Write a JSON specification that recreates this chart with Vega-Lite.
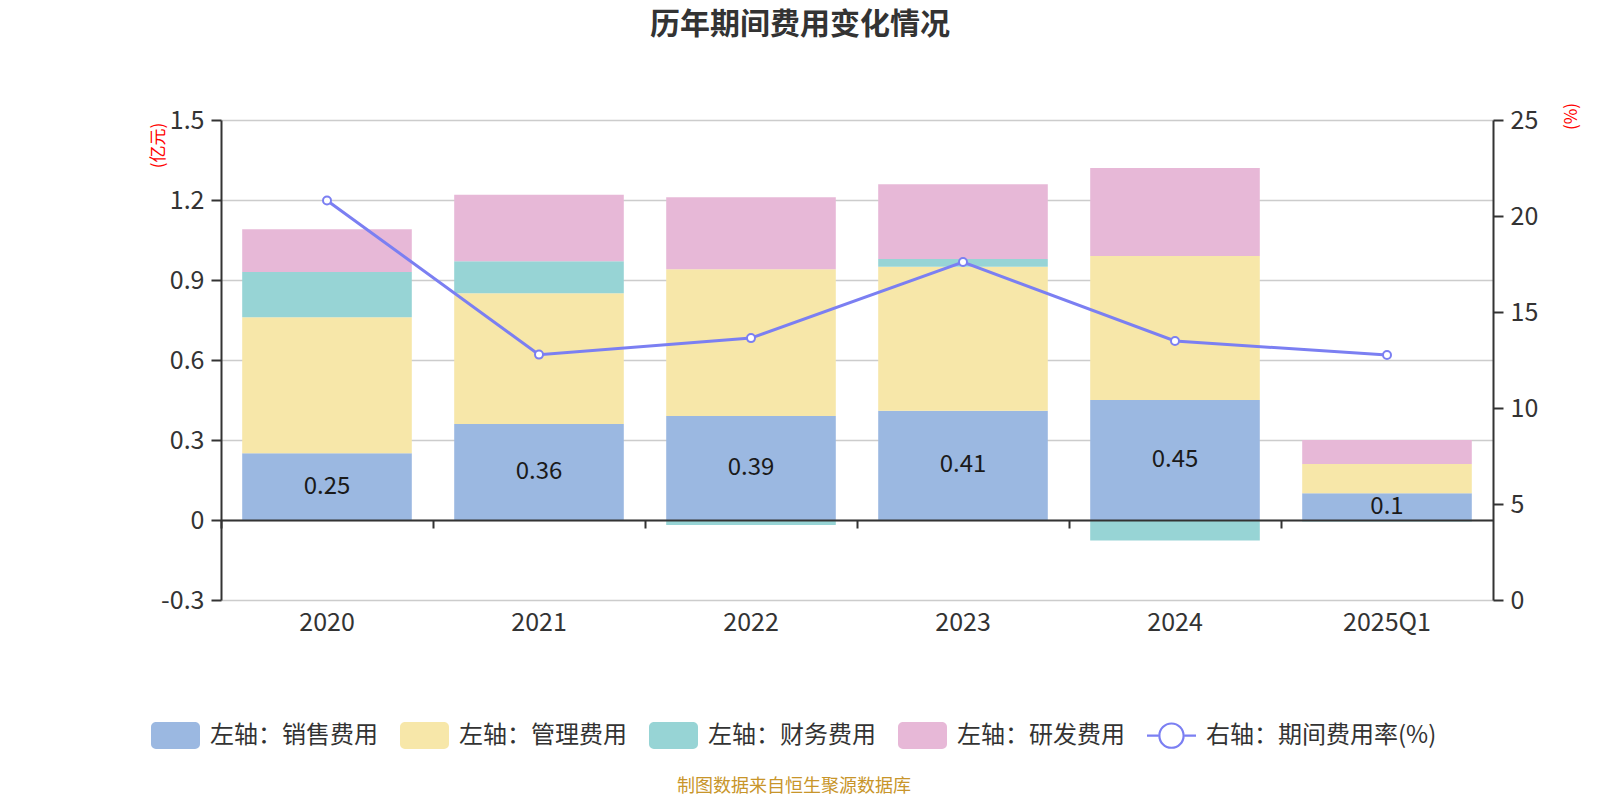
{
  "$schema": "https://vega.github.io/schema/vega-lite/v6.json",
  "width": 1272,
  "height": 480,
  "autosize": {"type": "none"},
  "padding": {"left": 221, "top": 120, "right": 107, "bottom": 200},
  "background": "#ffffff",
  "config": {
    "font": "Noto Sans CJK SC",
    "view": {"stroke": null},
    "axis": {"labelFont": "Noto Sans CJK SC", "titleFont": "Noto Sans CJK SC"}
  },
  "title": {
    "text": "历年期间费用变化情况",
    "fontSize": 30,
    "fontWeight": "bold",
    "color": "#333333",
    "anchor": "middle",
    "frame": "group",
    "dx": -57,
    "offset": 62
  },
  "datasets": {
    "cost": [
      {"year": "2020", "item": "左轴：销售费用", "ord": 1, "v": 0.25},
      {"year": "2020", "item": "左轴：管理费用", "ord": 2, "v": 0.51},
      {"year": "2020", "item": "左轴：财务费用", "ord": 3, "v": 0.17},
      {"year": "2020", "item": "左轴：研发费用", "ord": 4, "v": 0.16},
      {"year": "2021", "item": "左轴：销售费用", "ord": 1, "v": 0.36},
      {"year": "2021", "item": "左轴：管理费用", "ord": 2, "v": 0.49},
      {"year": "2021", "item": "左轴：财务费用", "ord": 3, "v": 0.12},
      {"year": "2021", "item": "左轴：研发费用", "ord": 4, "v": 0.25},
      {"year": "2022", "item": "左轴：销售费用", "ord": 1, "v": 0.39},
      {"year": "2022", "item": "左轴：管理费用", "ord": 2, "v": 0.55},
      {"year": "2022", "item": "左轴：财务费用", "ord": 3, "v": -0.019},
      {"year": "2022", "item": "左轴：研发费用", "ord": 4, "v": 0.27},
      {"year": "2023", "item": "左轴：销售费用", "ord": 1, "v": 0.41},
      {"year": "2023", "item": "左轴：管理费用", "ord": 2, "v": 0.54},
      {"year": "2023", "item": "左轴：财务费用", "ord": 3, "v": 0.029},
      {"year": "2023", "item": "左轴：研发费用", "ord": 4, "v": 0.28},
      {"year": "2024", "item": "左轴：销售费用", "ord": 1, "v": 0.45},
      {"year": "2024", "item": "左轴：管理费用", "ord": 2, "v": 0.54},
      {"year": "2024", "item": "左轴：财务费用", "ord": 3, "v": -0.077},
      {"year": "2024", "item": "左轴：研发费用", "ord": 4, "v": 0.33},
      {"year": "2025Q1", "item": "左轴：销售费用", "ord": 1, "v": 0.10},
      {"year": "2025Q1", "item": "左轴：管理费用", "ord": 2, "v": 0.11},
      {"year": "2025Q1", "item": "左轴：财务费用", "ord": 3, "v": -0.006},
      {"year": "2025Q1", "item": "左轴：研发费用", "ord": 4, "v": 0.09}
    ],
    "rate": [
      {"year": "2020", "rate": 20.81},
      {"year": "2021", "rate": 12.78},
      {"year": "2022", "rate": 13.64},
      {"year": "2023", "rate": 17.6},
      {"year": "2024", "rate": 13.49},
      {"year": "2025Q1", "rate": 12.76}
    ]
  },
  "layer": [
    {
      "layer": [
        {
          "data": {"name": "cost"},
          "mark": {"type": "bar"},
          "encoding": {
            "x": {
              "field": "year",
              "type": "nominal",
              "sort": null,
              "scale": {"paddingInner": 0.2, "paddingOuter": 0.1},
              "axis": {
                "orient": "bottom",
                "title": null,
                "domain": false,
                "ticks": false,
                "grid": false,
                "labelAngle": 0,
                "labelFontSize": 25,
                "labelColor": "#333333",
                "labelPadding": 10
              }
            },
            "y": {
              "field": "v",
              "type": "quantitative",
              "stack": "zero",
              "scale": {"domain": [-0.3, 1.5], "nice": false, "zero": false},
              "axis": {
                "orient": "left",
                "values": [-0.3, 0, 0.3, 0.6, 0.9, 1.2, 1.5],
                "labelExpr": "'' + (round(datum.value * 10) / 10)",
                "labelFontSize": 25,
                "labelColor": "#333333",
                "labelPadding": 7,
                "domain": true,
                "domainColor": "#333333",
                "domainWidth": 2,
                "ticks": true,
                "tickColor": "#333333",
                "tickWidth": 2,
                "tickSize": 10,
                "grid": true,
                "gridColor": "#cccccc",
                "gridWidth": 1.5,
                "title": "(亿元)",
                "titleColor": "#ff0000",
                "titleFontSize": 17,
                "titleFontWeight": "normal",
                "titleAngle": -90,
                "titleAlign": "center",
                "titleBaseline": "middle",
                "titleX": -63,
                "titleY": 25
              }
            },
            "color": {
              "field": "item",
              "type": "nominal",
              "scale": {
                "domain": ["左轴：销售费用", "左轴：管理费用", "左轴：财务费用", "左轴：研发费用", "右轴：期间费用率(%)"],
                "range": ["#9bb8e1", "#f7e7a9", "#97d4d5", "#e7b8d7", "#7b7ff2"]
              },
              "legend": {
                "orient": "none",
                "legendX": -70,
                "legendY": 591,
                "direction": "horizontal",
                "columns": 5,
                "title": "制图数据来自恒生聚源数据库",
                "titleOrient": "bottom",
                "titleAnchor": "middle",
                "titleFontSize": 18,
                "titleFontWeight": "normal",
                "titleColor": "#c8952a",
                "titlePadding": 29,
                "titleLimit": 800,
                "symbolType": "M-0.8,-0.55H0.8A0.2,0.2,0,0,1,1,-0.35V0.35A0.2,0.2,0,0,1,0.8,0.55H-0.8A0.2,0.2,0,0,1,-1,0.35V-0.35A0.2,0.2,0,0,1,-0.8,-0.55Z",
                "symbolSize": 2401,
                "symbolStrokeWidth": 0,
                "labelFontSize": 24,
                "labelColor": "#333333",
                "labelOffset": 10,
                "labelLimit": 400,
                "columnPadding": 22,
                "encode": {
                  "symbols": {
                    "update": {
                      "shape": {"signal": "datum.value === '右轴：期间费用率(%)' ? 'M-1,-0.045H-0.54V0.045H-1ZM0.54,-0.045H1V0.045H0.54ZM0.54,0A0.54,0.54,0,1,1,-0.54,0A0.54,0.54,0,1,1,0.54,0ZM0.45,0A0.45,0.45,0,1,0,-0.45,0A0.45,0.45,0,1,0,0.45,0Z' : 'M-0.8,-0.55H0.8A0.2,0.2,0,0,1,1,-0.35V0.35A0.2,0.2,0,0,1,0.8,0.55H-0.8A0.2,0.2,0,0,1,-1,0.35V-0.35A0.2,0.2,0,0,1,-0.8,-0.55Z'"},
                      "fill": {"scale": "color", "field": "value"},
                      "opacity": {"value": 1}
                    }
                  }
                }
              }
            },
            "order": {"field": "ord", "type": "quantitative"}
          }
        },
        {
          "data": {"name": "cost"},
          "transform": [
            {"filter": "datum.item === '左轴：销售费用'"},
            {"calculate": "datum.v / 2", "as": "mid"}
          ],
          "mark": {"type": "text", "fontSize": 24, "color": "#1a1a1a", "baseline": "middle", "align": "center"},
          "encoding": {
            "x": {
              "field": "year",
              "type": "nominal",
              "sort": null,
              "axis": {
                "orient": "bottom",
                "title": null,
                "domain": false,
                "ticks": false,
                "grid": false,
                "labelAngle": 0,
                "labelFontSize": 25,
                "labelColor": "#333333",
                "labelPadding": 10
              }
            },
            "y": {
              "field": "mid",
              "type": "quantitative",
              "axis": {
                "orient": "left",
                "values": [-0.3, 0, 0.3, 0.6, 0.9, 1.2, 1.5],
                "labelExpr": "'' + (round(datum.value * 10) / 10)",
                "labelFontSize": 25,
                "labelColor": "#333333",
                "labelPadding": 7,
                "domain": true,
                "domainColor": "#333333",
                "domainWidth": 2,
                "ticks": true,
                "tickColor": "#333333",
                "tickWidth": 2,
                "tickSize": 10,
                "grid": true,
                "gridColor": "#cccccc",
                "gridWidth": 1.5,
                "title": "(亿元)",
                "titleColor": "#ff0000",
                "titleFontSize": 17,
                "titleFontWeight": "normal",
                "titleAngle": -90,
                "titleAlign": "center",
                "titleBaseline": "middle",
                "titleX": -63,
                "titleY": 25
              }
            },
            "text": {"field": "v", "type": "quantitative", "format": ".2~f"}
          }
        }
      ]
    },
    {
      "data": {"name": "rate"},
      "mark": {
        "type": "line",
        "strokeWidth": 3,
        "point": {"filled": false, "fill": "#ffffff", "size": 64, "strokeWidth": 2}
      },
      "encoding": {
        "x": {
          "field": "year",
          "type": "nominal",
          "sort": null,
          "axis": {
            "orient": "bottom",
            "offset": -80,
            "labels": false,
            "title": null,
            "grid": false,
            "domain": true,
            "domainColor": "#333333",
            "domainWidth": 2,
            "ticks": true,
            "tickBand": "center",
            "tickOffset": -106,
            "tickSize": 8,
            "tickColor": "#333333",
            "tickWidth": 2,
            "zindex": 1
          }
        },
        "y": {
          "field": "rate",
          "type": "quantitative",
          "scale": {"domain": [0, 25], "nice": false},
          "axis": {
            "orient": "right",
            "values": [0, 5, 10, 15, 20, 25],
            "labelFontSize": 25,
            "labelColor": "#333333",
            "labelPadding": 7,
            "domain": true,
            "domainColor": "#333333",
            "domainWidth": 2,
            "ticks": true,
            "tickColor": "#333333",
            "tickWidth": 2,
            "tickSize": 10,
            "grid": false,
            "title": "(%)",
            "titleColor": "#ff0000",
            "titleFontSize": 17,
            "titleFontWeight": "normal",
            "titleAngle": -90,
            "titleAlign": "center",
            "titleBaseline": "middle",
            "titleX": 78,
            "titleY": -4
          }
        },
        "color": {"datum": "右轴：期间费用率(%)", "type": "nominal"}
      }
    }
  ],
  "resolve": {"scale": {"y": "independent"}, "axis": {"x": "independent"}}
}
